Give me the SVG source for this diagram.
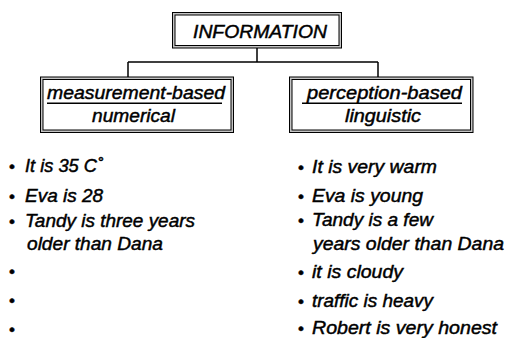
<svg xmlns="http://www.w3.org/2000/svg" width="505" height="338" viewBox="0 0 505 338">
<style>
text{font-family:"Liberation Sans",Arial,sans-serif;font-style:italic;font-size:18px;fill:#000;stroke:#000;stroke-width:0.45px}
.outer{fill:#c4c4c4;stroke:#000;stroke-width:1}
.inner{fill:#fff;stroke:#000;stroke-width:1}
.conn{fill:none;stroke:#000;stroke-width:1.5}
.ul{stroke:#000;stroke-width:1.6}
.b{font-style:normal;font-size:17px}
</style>
<rect width="505" height="338" fill="#fff"/>
<g id="connectors">
<path class="conn" d="M257 48V62M128 62H378M128 62V77M378 62V77"/>
</g>
<g id="information">
<rect class="outer" x="172.5" y="12.5" width="169" height="35.5"/>
<rect class="inner" x="175" y="15" width="164" height="30.5"/>
<text x="193" y="37.5" textLength="134" lengthAdjust="spacingAndGlyphs">INFORMATION</text>
</g>
<g id="measurement">
<rect class="outer" x="40.5" y="77" width="193" height="55.5"/>
<rect class="inner" x="43" y="79.5" width="188" height="50.5"/>
<text x="47" y="98.5" textLength="178" lengthAdjust="spacingAndGlyphs">measurement-based</text>
<line class="ul" x1="47" y1="103.2" x2="222" y2="103.2"/>
<text x="92" y="122" textLength="83" lengthAdjust="spacingAndGlyphs">numerical</text>
</g>
<g id="perception">
<rect class="outer" x="289.5" y="77" width="183.5" height="55.5"/>
<rect class="inner" x="292" y="79.5" width="178.5" height="50.5"/>
<text x="307" y="98.5" textLength="155" lengthAdjust="spacingAndGlyphs">perception-based</text>
<line class="ul" x1="302" y1="103.2" x2="462" y2="103.2"/>
<text x="345" y="122" textLength="76" lengthAdjust="spacingAndGlyphs">linguistic</text>
</g>
<g id="numerical-list">
<text class="b" x="9" y="172">•</text><text x="25" y="172" textLength="78" lengthAdjust="spacingAndGlyphs">It is 35 C˚</text>
<text class="b" x="9" y="202">•</text><text x="25" y="202" textLength="78" lengthAdjust="spacingAndGlyphs">Eva is 28</text>
<text class="b" x="9" y="227">•</text><text x="25" y="227" textLength="170" lengthAdjust="spacingAndGlyphs">Tandy is three years</text>
<text x="27" y="250" textLength="136" lengthAdjust="spacingAndGlyphs">older than Dana</text>
<text class="b" x="9" y="277">•</text>
<text class="b" x="9" y="306">•</text>
<text class="b" x="9" y="335">•</text>
</g>
<g id="linguistic-list">
<text class="b" x="298" y="173">•</text><text x="312" y="173" textLength="125" lengthAdjust="spacingAndGlyphs">It is very warm</text>
<text class="b" x="298" y="202">•</text><text x="312" y="202" textLength="111" lengthAdjust="spacingAndGlyphs">Eva is young</text>
<text class="b" x="298" y="226">•</text><text x="312" y="226" textLength="121" lengthAdjust="spacingAndGlyphs">Tandy is a few</text>
<text x="313" y="250" textLength="191" lengthAdjust="spacingAndGlyphs">years older than Dana</text>
<text class="b" x="298" y="278">•</text><text x="312" y="278" textLength="91" lengthAdjust="spacingAndGlyphs">it is cloudy</text>
<text class="b" x="298" y="307">•</text><text x="312" y="307" textLength="121" lengthAdjust="spacingAndGlyphs">traffic is heavy</text>
<text class="b" x="298" y="334">•</text><text x="312" y="334" textLength="185" lengthAdjust="spacingAndGlyphs">Robert is very honest</text>
</g>
</svg>
